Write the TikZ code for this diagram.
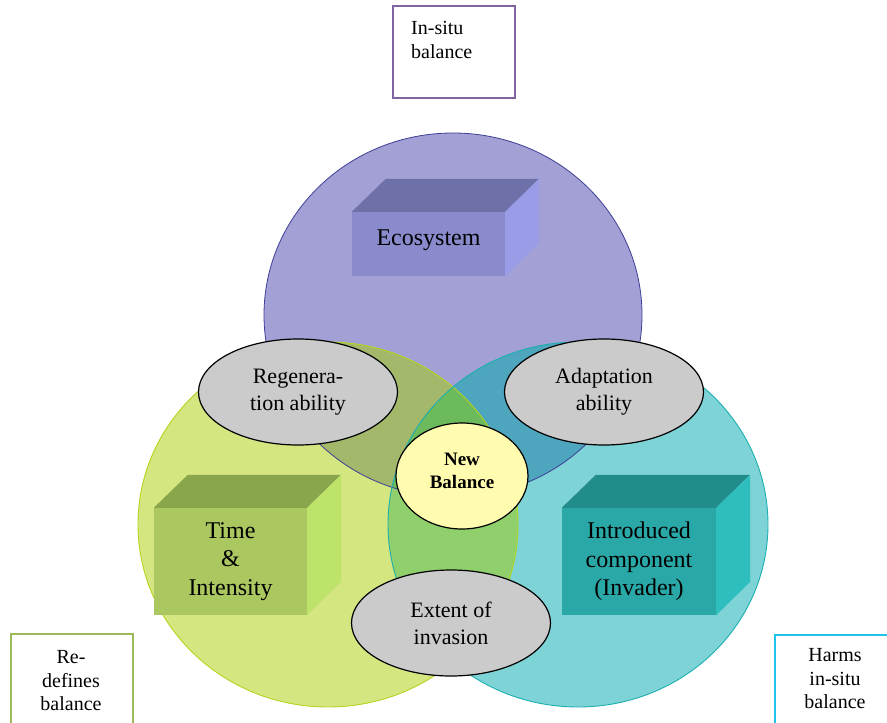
\documentclass[tikz,border=0pt]{standalone}
\usepackage{fontspec}
\setmainfont{Liberation Serif}
\usepackage{tikz}
\usetikzlibrary{shapes.geometric,positioning}

\definecolor{ecofill}{HTML}{A2A0D4}
\definecolor{ecoline}{HTML}{3E3E98}
\definecolor{timefill}{HTML}{D4E680}
\definecolor{timeline}{HTML}{B5D320}
\definecolor{invfill}{HTML}{7ED3D6}
\definecolor{invline}{HTML}{1CAFB0}
\definecolor{ecotime}{HTML}{A3B86A}
\definecolor{ecoinv}{HTML}{4DA6BD}
\definecolor{timeinv}{HTML}{90D06C}
\definecolor{allthree}{HTML}{6CBA5C}
\definecolor{ecofront}{HTML}{8A8BCC}
\definecolor{ecotop}{HTML}{6E71A8}
\definecolor{ecoside}{HTML}{9B9CE8}
\definecolor{timefront}{HTML}{ABC760}
\definecolor{timetop}{HTML}{8AA64D}
\definecolor{timeside}{HTML}{BEE36A}
\definecolor{invfront}{HTML}{2AA8A7}
\definecolor{invtop}{HTML}{218C8A}
\definecolor{invside}{HTML}{2DBEBD}
\definecolor{ovalgray}{HTML}{CBCBCB}
\definecolor{newfill}{HTML}{FFFCAF}
\definecolor{insituline}{HTML}{8064A2}
\definecolor{redefline}{HTML}{9BBB59}
\definecolor{harmsline}{HTML}{1FC3EA}

\tikzset{
  front/.style={rectangle, inner sep=0pt, align=center, font=\fontsize{24}{28.5}\selectfont},
  oval/.style={ellipse, draw=black, line width=1.2pt, fill=ovalgray, inner sep=0pt, align=center,
    minimum width=199pt, minimum height=106pt, font=\fontsize{22}{27}\selectfont},
  note/.style={rectangle, line width=1.5pt, fill=white, inner sep=0pt},
  notetext/.style={inner sep=0pt, font=\fontsize{20}{23.5}\selectfont},
  ecoround/.style={x radius=189pt, y radius=182pt},
  sideround/.style={x radius=190pt, y radius=182.5pt}
}

\begin{document}
\begin{tikzpicture}[x=1pt,y=-1pt]
    \useasboundingbox (0,0) rectangle (887,723);
    \clip (0,0) rectangle (887,723);

    % centres of the three rounds
    \coordinate (top) at (453,315);
    \coordinate (lft) at (328,524.5);
    \coordinate (rgt) at (578,524.5);

    % draw big rounds
    \fill[ecofill] (top) ellipse [ecoround];
    \fill[timefill] (lft) ellipse [sideround];
    \fill[invfill] (rgt) ellipse [sideround];

    % draw overlaps
    \begin{scope}
      \clip (lft) ellipse [sideround];
      \fill[timeinv] (rgt) ellipse [sideround];
    \end{scope}
    \begin{scope}
      \clip (top) ellipse [ecoround];
      \fill[ecotime] (lft) ellipse [sideround];
      \fill[ecoinv] (rgt) ellipse [sideround];
      \clip (lft) ellipse [sideround];
      \fill[allthree] (rgt) ellipse [sideround];
    \end{scope}

    % draw outlines
    \draw[ecoline, line width=0.8pt] (top) ellipse [ecoround];
    \draw[timeline, line width=0.9pt] (lft) ellipse [sideround];
    \draw[invline, line width=0.9pt] (rgt) ellipse [sideround];

    % draw boxes
    \node[front, fill=ecofront, minimum width=153pt, minimum height=64pt, text depth=13pt] (eco) at (428.5,244) {Ecosystem};
    \fill[ecotop] (eco.north west) -- ++(34,-33) -- ++(153,0) -- (eco.north east) -- cycle;
    \fill[ecoside] (eco.north east) -- ++(34,-33) -- ++(0,64) -- (eco.south east) -- cycle;

    \node[front, fill=timefront, minimum width=153pt, minimum height=107pt] (time) at (230.5,561.5) {Time\\\&\\Intensity};
    \fill[timetop] (time.north west) -- ++(34,-33) -- ++(153,0) -- (time.north east) -- cycle;
    \fill[timeside] (time.north east) -- ++(34,-33) -- ++(0,107) -- (time.south east) -- cycle;

    \node[front, fill=invfront, minimum width=154pt, minimum height=107pt] (inv) at (639,561.5) {Introduced\\component\\(Invader)};
    \fill[invtop] (inv.north west) -- ++(34,-33) -- ++(154,0) -- (inv.north east) -- cycle;
    \fill[invside] (inv.north east) -- ++(34,-33) -- ++(0,107) -- (inv.south east) -- cycle;

    % draw ovals
    \node[oval] (regen) at (298,392) {Regenera-\\tion ability};
    \node[oval] (adapt) at (604,392) {Adaptation\\ability};
    \node[oval] (extent) at (451,623) {Extent of\\invasion};
    \node[oval, fill=newfill, minimum width=132pt, minimum height=106pt, text depth=10pt,
      font=\bfseries\fontsize{19}{23}\selectfont] (newbal) at (462,476) {New\\Balance};

    % draw notes
    \node[note, draw=insituline, minimum width=122pt, minimum height=92pt, anchor=north west] (insitu) at (392,5) {};
    \node[notetext, align=left, anchor=north west] (insitutext) at ([xshift=19pt,yshift=-16.5pt]insitu.north west) {In-situ\\balance};

    \node[note, draw=redefline, minimum width=122pt, minimum height=110pt, anchor=north west] (redef) at (10,633) {};
    \node[notetext, align=center, anchor=north] (redeftext) at (71,650.5) {Re-\\defines\\balance};

    \node[note, draw=harmsline, minimum width=130pt, minimum height=110pt, anchor=north west] (harms) at (774,634) {};
    \node[notetext, align=center, anchor=north] (harmstext) at (835,648.5) {Harms\\in-situ\\balance};

\end{tikzpicture}
\end{document}
